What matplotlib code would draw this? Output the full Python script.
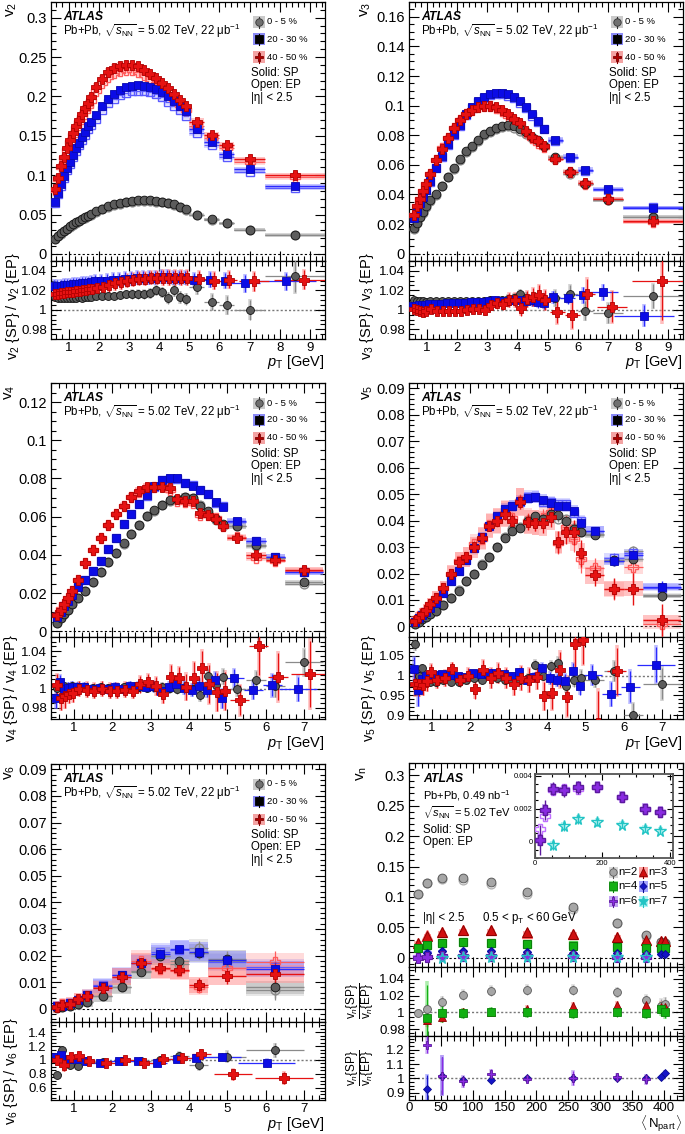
import matplotlib
matplotlib.use("Agg")
import matplotlib.pyplot as plt
import numpy as np
from matplotlib.lines import Line2D
from matplotlib.patches import Rectangle
from matplotlib.ticker import FuncFormatter, MultipleLocator

plt.rcParams["font.family"] = ["Liberation Sans", "DejaVu Sans"]
plt.rcParams["mathtext.fontset"] = "custom"
plt.rcParams["mathtext.rm"] = "Liberation Sans"
plt.rcParams["mathtext.it"] = "Liberation Sans:italic"
plt.rcParams["mathtext.bf"] = "Liberation Sans:bold"
plt.rcParams["axes.linewidth"] = 0.9

# ---------------------------------------------------------------- data
# pT bin edges (GeV)
pt_edges_v2 = [0.5, 0.6, 0.7, 0.8, 0.9, 1.0, 1.1, 1.2, 1.3, 1.4, 1.5, 1.6, 1.7, 1.8,
               2.0, 2.2, 2.4, 2.6, 2.8, 3.0, 3.2, 3.4, 3.6, 3.8, 4.0, 4.2, 4.4, 4.6, 4.8, 5.0,
               5.5, 6.0, 6.5, 7.5, 9.5]
pt_edges_v3 = [0.5, 0.6, 0.7, 0.8, 0.9, 1.0, 1.2, 1.4, 1.6, 1.8,
               2.0, 2.2, 2.4, 2.6, 2.8, 3.0, 3.2, 3.4, 3.6, 3.8, 4.0, 4.2, 4.4, 4.6, 4.8, 5.0,
               5.5, 6.0, 6.5, 7.5, 9.5]
pt_edges_v45 = [0.5, 0.6, 0.7, 0.8, 0.9, 1.0, 1.2, 1.4, 1.6, 1.8,
                2.0, 2.2, 2.4, 2.6, 2.8, 3.0, 3.2, 3.4, 3.6, 3.8, 4.0, 4.2, 4.4, 4.6, 4.8, 5.0,
                5.5, 6.0, 6.5, 7.5]
pt_edges_v6 = [0.5, 0.6, 0.8, 1.0, 1.2, 1.5, 2.0, 2.5, 3.0, 3.5, 4.0, 4.5, 5.5, 7.0]

# v2{SP}
v2_c0 = [0.019, 0.0225, 0.026, 0.029, 0.032, 0.035, 0.0375, 0.040, 0.042, 0.0445, 0.0465, 0.0485, 0.0505,
         0.054, 0.0575, 0.0605, 0.063, 0.065, 0.0665, 0.0675, 0.068, 0.068, 0.068, 0.0675, 0.0665, 0.065,
         0.063, 0.060, 0.0565,
         0.050, 0.044, 0.039, 0.031, 0.0245]
v2_c20 = [0.0662, 0.0776, 0.0883, 0.0989, 0.1087, 0.1173, 0.1257, 0.1342, 0.1414, 0.1482, 0.1554, 0.1627, 0.168,
          0.1767, 0.1882, 0.1971, 0.2035, 0.2086, 0.2116, 0.2137, 0.2141, 0.2137, 0.212, 0.2094, 0.2056, 0.2001,
          0.1946, 0.1882, 0.181,
          0.1584, 0.1427, 0.1265, 0.1074, 0.0861]
v2_c40 = [0.0819, 0.0968, 0.1117, 0.1236, 0.1342, 0.1448, 0.1542, 0.1627, 0.1703, 0.178, 0.1852, 0.1916, 0.1988,
          0.212, 0.2222, 0.2307, 0.2362, 0.2383, 0.24, 0.2405, 0.2383, 0.2341, 0.229, 0.223, 0.2171, 0.2103,
          0.2031, 0.1958, 0.1882,
          0.1682, 0.1512, 0.1384, 0.1202, 0.1002]
# v2{SP}/v2{EP}
r2_c0 = [1.013, 1.012, 1.012, 1.012, 1.012, 1.012, 1.012, 1.012, 1.013, 1.012, 1.013, 1.013, 1.013,
         1.014, 1.014, 1.014, 1.014, 1.015, 1.016, 1.016, 1.016, 1.016, 1.017, 1.020, 1.018, 1.012, 1.020,
         1.013, 1.011,
         1.023, 1.008, 1.005, 1.000, 1.035]
r2_c20 = [1.024, 1.024, 1.024, 1.025, 1.025, 1.025, 1.026, 1.026, 1.026, 1.027, 1.027, 1.027, 1.028,
          1.029, 1.029, 1.030, 1.031, 1.031, 1.032, 1.032, 1.033, 1.033, 1.033, 1.033, 1.034, 1.034, 1.033,
          1.033, 1.033,
          1.031, 1.031, 1.030, 1.027, 1.029]
r2_c40 = [1.016, 1.016, 1.017, 1.017, 1.018, 1.018, 1.018, 1.019, 1.019, 1.020, 1.020, 1.021, 1.021,
          1.022, 1.023, 1.025, 1.027, 1.028, 1.030, 1.031, 1.032, 1.032, 1.033, 1.033, 1.033, 1.033, 1.033,
          1.033, 1.033,
          1.032, 1.030, 1.031, 1.029, 1.031]
r2e_c0 = [0.0035, 0.0035, 0.0035, 0.0035, 0.0035, 0.0035, 0.0035, 0.0035, 0.0035, 0.0035, 0.0035, 0.0035, 0.0035,
          0.004, 0.004, 0.004, 0.004, 0.004, 0.004, 0.0045, 0.0045, 0.0045, 0.005, 0.005, 0.005, 0.006, 0.006,
          0.006, 0.006,
          0.007, 0.008, 0.009, 0.010, 0.017]
r2e_c20 = [0.007, 0.007, 0.007, 0.007, 0.007, 0.007, 0.007, 0.007, 0.007, 0.007, 0.007, 0.007, 0.007,
           0.007, 0.007, 0.007, 0.007, 0.007, 0.007, 0.007, 0.007, 0.007, 0.007, 0.007, 0.007, 0.007, 0.007,
           0.007, 0.007,
           0.007, 0.008, 0.008, 0.009, 0.009]
r2e_c40 = [0.007, 0.007, 0.007, 0.007, 0.007, 0.007, 0.007, 0.007, 0.007, 0.007, 0.007, 0.007, 0.007,
           0.007, 0.007, 0.007, 0.007, 0.007, 0.007, 0.007, 0.007, 0.007, 0.007, 0.007, 0.008, 0.008, 0.008,
           0.008, 0.008,
           0.008, 0.009, 0.009, 0.010, 0.010]

# v3{SP}
v3_c0 = [0.017, 0.021, 0.025, 0.028, 0.032, 0.036, 0.040, 0.046, 0.052, 0.058,
         0.064, 0.069, 0.073, 0.077, 0.081, 0.083, 0.085, 0.0863, 0.087, 0.086, 0.084, 0.082, 0.079, 0.077, 0.073,
         0.065, 0.055, 0.047, 0.036, 0.025]
v3_c20 = [0.024, 0.0285, 0.034, 0.038, 0.043, 0.049, 0.058, 0.066, 0.074, 0.081,
          0.087, 0.094, 0.099, 0.103, 0.106, 0.1078, 0.1088, 0.1088, 0.1076, 0.106, 0.103, 0.099, 0.094, 0.0895,
          0.0845,
          0.077, 0.0656, 0.0566, 0.0436, 0.031]
v3_c40 = [0.026, 0.032, 0.037, 0.042, 0.047, 0.054, 0.063, 0.071, 0.078, 0.085,
          0.090, 0.094, 0.097, 0.099, 0.100, 0.100, 0.099, 0.097, 0.094, 0.091, 0.088, 0.083, 0.079, 0.076, 0.073,
          0.064, 0.055, 0.048, 0.037, 0.022]
r3_c0 = [1.010, 1.009, 1.009, 1.009, 1.008, 1.009, 1.009, 1.009, 1.009, 1.009,
         1.009, 1.009, 1.009, 1.009, 1.009, 1.010, 1.009, 1.010, 1.011, 1.012, 1.016, 1.012, 1.010, 1.011, 1.008,
         1.012, 1.0165, 0.999, 0.9965, 1.014]
r3_c20 = [1.004, 1.004, 1.005, 1.005, 1.005, 1.006, 1.006, 1.006, 1.007, 1.007,
          1.007, 1.007, 1.008, 1.008, 1.008, 1.009, 1.010, 1.009, 1.009, 1.010, 1.010, 1.009, 1.010, 1.008, 1.007,
          1.013, 1.012, 1.015, 1.018, 0.994]
r3_c40 = [1.001, 1.000, 0.999, 0.998, 0.999, 1.001, 0.999, 0.999, 0.999, 0.999,
          0.999, 1.000, 1.001, 1.001, 1.000, 1.005, 1.007, 1.006, 1.010, 1.010, 1.002, 1.011, 1.013, 1.015, 1.010,
          0.998, 0.995, 1.016, 1.003, 1.029]
r3e_c0 = [0.003, 0.003, 0.003, 0.003, 0.003, 0.003, 0.003, 0.003, 0.003, 0.003,
          0.003, 0.003, 0.003, 0.003, 0.004, 0.004, 0.004, 0.004, 0.005, 0.005, 0.005, 0.006, 0.006, 0.007, 0.007,
          0.008, 0.009, 0.010, 0.010, 0.012]
r3e_c20 = [0.003, 0.003, 0.003, 0.003, 0.003, 0.003, 0.003, 0.003, 0.003, 0.003,
           0.003, 0.003, 0.003, 0.003, 0.003, 0.004, 0.004, 0.004, 0.004, 0.005, 0.005, 0.005, 0.006, 0.006, 0.006,
           0.006, 0.006, 0.008, 0.008, 0.011]
r3e_c40 = [0.004, 0.004, 0.004, 0.004, 0.004, 0.004, 0.004, 0.004, 0.004, 0.004,
           0.004, 0.004, 0.004, 0.004, 0.005, 0.005, 0.006, 0.006, 0.007, 0.007, 0.008, 0.008, 0.009, 0.010, 0.010,
           0.012, 0.014, 0.016, 0.016, 0.040]

# v4{SP}
v4_c0 = [0.0045, 0.0068, 0.009, 0.0113, 0.0143, 0.0172, 0.0212, 0.026, 0.031, 0.0363,
         0.0412, 0.046, 0.051, 0.0555, 0.0603, 0.0633, 0.066, 0.0685, 0.0694, 0.0703, 0.0699, 0.0656, 0.063,
         0.0586, 0.056,
         0.0551, 0.045, 0.0383, 0.0256]
v4_c20 = [0.0073, 0.0103, 0.013, 0.016, 0.019, 0.023, 0.027, 0.0313, 0.0369, 0.043,
          0.049, 0.056, 0.0616, 0.0668, 0.0711, 0.076, 0.079, 0.080, 0.080, 0.0777, 0.0763, 0.0742, 0.072,
          0.0677, 0.065,
          0.0577, 0.0473, 0.039, 0.0308]
v4_c40 = [0.0085, 0.0113, 0.0143, 0.0175, 0.021, 0.027, 0.0355, 0.0424, 0.049, 0.0555,
          0.0612, 0.0655, 0.0703, 0.0734, 0.0755, 0.0757, 0.0757, 0.0748, 0.069, 0.068, 0.068, 0.062, 0.061,
          0.059, 0.055,
          0.049, 0.040, 0.0375, 0.0322]
r4_c0 = [1.001, 1.002, 1.003, 1.001, 1.003, 1.002, 1.002, 1.001, 1.002, 1.001,
         1.001, 1.002, 1.001, 1.002, 1.001, 1.002, 1.002, 1.001, 1.000, 1.002, 1.000, 0.993, 1.014, 1.004, 1.013,
         1.000, 1.009, 1.003, 1.028]
r4_c20 = [0.990, 1.007, 1.000, 1.001, 1.002, 1.002, 1.002, 1.000, 1.001, 1.000,
          1.002, 1.000, 1.003, 1.003, 1.002, 1.003, 0.998, 1.002, 1.005, 1.001, 0.999, 1.003, 0.999, 1.009, 0.990,
          1.011, 0.999, 1.004, 1.000]
r4_c40 = [1.004, 0.990, 0.992, 0.995, 0.996, 1.000, 0.999, 0.998, 1.000, 0.998,
          0.998, 0.999, 0.998, 1.005, 1.007, 1.003, 0.995, 1.013, 1.011, 1.002, 1.012, 1.022, 1.005, 0.997, 0.998,
          0.988, 1.045, 1.013, 1.016]
r4e_c0 = [0.004, 0.004, 0.004, 0.004, 0.004, 0.004, 0.004, 0.004, 0.004, 0.004,
          0.004, 0.004, 0.004, 0.004, 0.004, 0.005, 0.005, 0.005, 0.005, 0.006, 0.006, 0.006, 0.007, 0.007, 0.008,
          0.008, 0.010, 0.012, 0.014]
r4e_c20 = [0.010, 0.008, 0.006, 0.006, 0.006, 0.005, 0.005, 0.005, 0.005, 0.005,
           0.005, 0.005, 0.005, 0.005, 0.005, 0.006, 0.006, 0.006, 0.006, 0.007, 0.007, 0.008, 0.008, 0.009, 0.010,
           0.010, 0.010, 0.012, 0.013]
r4e_c40 = [0.012, 0.012, 0.012, 0.010, 0.010, 0.008, 0.008, 0.008, 0.008, 0.008,
           0.008, 0.008, 0.008, 0.009, 0.009, 0.010, 0.010, 0.012, 0.012, 0.014, 0.016, 0.018, 0.020, 0.020, 0.020,
           0.016, 0.030, 0.025, 0.035]

# v5{SP}
v5_c0 = [0.001, 0.0018, 0.0028, 0.0037, 0.0047, 0.0058, 0.008, 0.0107, 0.0135, 0.017,
         0.0198, 0.0232, 0.0262, 0.030, 0.0336, 0.0362, 0.0372, 0.040, 0.0417, 0.0405, 0.0424, 0.042, 0.0397,
         0.037, 0.0355,
         0.0345, 0.025, 0.0255, 0.0115]
v5_c20 = [0.0018, 0.003, 0.0042, 0.0055, 0.0068, 0.0088, 0.0125, 0.0172, 0.021, 0.025,
          0.0298, 0.0338, 0.038, 0.0416, 0.0445, 0.0455, 0.0475, 0.0485, 0.0489, 0.0478, 0.0467, 0.0457, 0.0455,
          0.0436, 0.0389,
          0.0361, 0.0248, 0.027, 0.015]
v5_c40 = [0.0020, 0.0035, 0.0048, 0.0063, 0.0085, 0.0107, 0.0144, 0.020, 0.0244, 0.0263,
          0.030, 0.0335, 0.038, 0.040, 0.0426, 0.040, 0.047, 0.0395, 0.0392, 0.0389, 0.0414, 0.032, 0.0357,
          0.0355, 0.0276,
          0.0194, 0.0142, 0.0142, 0.0025]
v5s_c0 = [0.0003, 0.0003, 0.0003, 0.0003, 0.0003, 0.0004, 0.0004, 0.0004, 0.0005, 0.0005,
          0.0005, 0.0006, 0.0006, 0.0007, 0.0007, 0.0008, 0.0008, 0.0009, 0.0010, 0.0010, 0.0011, 0.0012, 0.0013,
          0.0014, 0.0015,
          0.0015, 0.0018, 0.0020, 0.0020]
v5s_c20 = [0.0003, 0.0003, 0.0003, 0.0003, 0.0003, 0.0004, 0.0004, 0.0004, 0.0005, 0.0005,
           0.0005, 0.0005, 0.0006, 0.0006, 0.0007, 0.0007, 0.0008, 0.0008, 0.0009, 0.0010, 0.0010, 0.0011, 0.0012,
           0.0013, 0.0014,
           0.0015, 0.0018, 0.0020, 0.0020]
v5s_c40 = [0.0005, 0.0005, 0.0006, 0.0006, 0.0007, 0.0008, 0.0009, 0.0010, 0.0012, 0.0013,
           0.0015, 0.0017, 0.0019, 0.0020, 0.0022, 0.0025, 0.0028, 0.0030, 0.0032, 0.0035, 0.0040, 0.0042, 0.0045,
           0.0048, 0.0050,
           0.0040, 0.0040, 0.0060, 0.0060]
r5_c0 = [1.079, 1.000, 1.019, 0.990, 0.985, 0.985, 0.990, 0.985, 0.985, 0.990,
         0.995, 0.990, 1.000, 0.995, 0.990, 0.987, 0.990, 0.995, 1.028, 1.000, 1.024, 1.033, 0.974, 0.990, 0.995,
         0.990, 1.011, 0.900, 0.980]
r5_c20 = [1.017, 0.964, 0.991, 0.998, 1.000, 1.002, 1.003, 1.002, 0.998, 0.997,
          1.006, 1.003, 1.006, 1.006, 1.003, 0.998, 1.009, 0.989, 0.997, 1.019, 0.994, 0.989, 0.987, 1.013, 0.974,
          1.002, 0.954, 0.972, 1.028]
r5_c40 = [0.980, 0.978, 0.977, 0.987, 1.009, 0.989, 0.994, 1.016, 0.990, 1.000,
          0.967, 1.015, 0.994, 1.006, 0.994, 0.978, 0.994, 0.989, 0.997, 0.948, 0.955, 1.015, 0.947, 1.079, 1.090,
          0.880, 1.011, 0.630, 3.000]
r5e_c0 = [0.015, 0.012, 0.010, 0.010, 0.010, 0.008, 0.008, 0.008, 0.008, 0.008,
          0.008, 0.008, 0.008, 0.008, 0.008, 0.010, 0.010, 0.010, 0.012, 0.012, 0.014, 0.015, 0.016, 0.018, 0.020,
          0.020, 0.025, 0.030, 0.040]
r5e_c20 = [0.030, 0.040, 0.025, 0.015, 0.012, 0.010, 0.008, 0.008, 0.008, 0.008,
           0.008, 0.008, 0.008, 0.008, 0.008, 0.010, 0.010, 0.012, 0.012, 0.014, 0.015, 0.016, 0.018, 0.020, 0.022,
           0.025, 0.030, 0.040, 0.045]
r5e_c40 = [0.030, 0.030, 0.025, 0.025, 0.020, 0.020, 0.020, 0.018, 0.018, 0.020,
           0.025, 0.025, 0.025, 0.025, 0.025, 0.028, 0.030, 0.030, 0.030, 0.035, 0.040, 0.045, 0.050, 0.060, 0.060,
           0.080, 0.060, 0.100, 0.100]

# v6{SP}
v6_c0 = [0.0004, 0.0006, 0.0009, 0.0016, 0.0025, 0.0047, 0.0081, 0.0139, 0.0198, 0.018, 0.021, 0.0187, 0.0081]
v6_c20 = [0.001, 0.0012, 0.0022, 0.0031, 0.005, 0.0085, 0.0125, 0.017, 0.0205, 0.0224, 0.0215, 0.0183, 0.015]
v6_c40 = [0.0005, 0.0015, 0.0019, 0.0035, 0.0046, 0.0077, 0.0121, 0.0172, 0.0152, 0.0147, 0.009, 0.0122, 0.0131]
v6s_c0 = [0.0003, 0.0003, 0.0004, 0.0005, 0.0006, 0.0006, 0.0008, 0.001, 0.0012, 0.0015, 0.0025, 0.003, 0.004]
v6s_c20 = [0.0003, 0.0003, 0.0004, 0.0004, 0.0005, 0.0006, 0.0007, 0.0008, 0.001, 0.0012, 0.0015, 0.002, 0.0025]
v6s_c40 = [0.0004, 0.0005, 0.0006, 0.0006, 0.0007, 0.0008, 0.001, 0.0015, 0.0015, 0.002, 0.0025, 0.003, 0.004]
r6_c0 = [0.78, 1.14, 0.92, 0.91, 0.99, 0.97, 0.98, 0.99, 1.00, 1.06, 0.92, 1.05, 1.14]
r6_c20 = [1.04, 1.07, 1.01, 1.02, 0.99, 0.95, 0.98, 0.98, 0.96, 1.02, 1.03, 1.05, 0.96]
r6_c40 = [1.00, 0.92, 1.04, 1.06, 0.99, 0.96, 1.00, 0.95, 1.02, 1.03, 1.09, 0.79, 0.74]
r6e_c0 = [0.05, 0.06, 0.05, 0.05, 0.03, 0.03, 0.03, 0.04, 0.05, 0.06, 0.07, 0.08, 0.10]
r6e_c20 = [0.05, 0.05, 0.04, 0.04, 0.03, 0.02, 0.02, 0.02, 0.02, 0.03, 0.04, 0.05, 0.06]
r6e_c40 = [0.08, 0.08, 0.06, 0.05, 0.04, 0.03, 0.03, 0.04, 0.05, 0.05, 0.06, 0.08, 0.09]

# vn vs <Npart>, 0.5 < pT < 60 GeV
npart = [14, 29, 52, 85, 129, 185, 258, 327, 372, 395, 401]
vn_n2 = [0.105, 0.123, 0.131, 0.131, 0.124, 0.108, 0.083, 0.058, 0.037, 0.026, 0.024]
vn_n3 = [0.025, 0.0365, 0.0417, 0.045, 0.045, 0.0417, 0.0395, 0.0346, 0.030, 0.0285, 0.0285]
vn_n4 = [0.016, 0.0214, 0.0252, 0.0268, 0.0252, 0.023, 0.0203, 0.0186, 0.017, 0.016, 0.016]
vn_n5 = [0.002, 0.0087, 0.0115, 0.0115, 0.0115, 0.0104, 0.0087, 0.0076, 0.0065, 0.0065, 0.0062]
vn_n6 = [0.0001, 0.0019, 0.0032, 0.0031, 0.0033, 0.0033, 0.0027, 0.0020, 0.0018]
vn_n7 = [-0.0002, 0.00095, 0.00136, 0.00116, 0.0010, 0.00075, 0.00065]
vn_n6_err = [0.0009, 0.0006, 0.0004, 0.0004, 0.0004, 0.0003, 0.0003, 0.0003, 0.0002]
vn_n7_err = [0.0003, 0.0003, 0.0003, 0.0002, 0.0002, 0.0002, 0.0002]
rn_n2 = [0.999, 1.004, 1.013, 1.021, 1.0256, 1.027, 1.027, 1.024, 1.015, 1.008, 1.010]
rn_n3 = [1.000, 0.991, 0.995, 1.000, 1.001, 1.004, 1.008, 1.009, 1.009, 1.007, 1.006]
rn_n4 = [1.000, 0.993, 0.999, 0.999, 1.001, 1.000, 0.999, 1.001, 0.999, 1.004, 1.001]
rn_n5 = [1.000, 0.924, 1.020, 0.990, 0.990, 1.000, 1.000, 1.000, 1.000, 1.010, 1.040]
rn_n6 = [0.13, 1.234, 1.020, 0.980, 1.034, 0.993, 1.005, 1.012, 0.993]
rn_n2_err = [0.005, 0.005, 0.006, 0.006, 0.006, 0.006, 0.006, 0.006, 0.006, 0.008, 0.008]
rn_n3_err = [0.010, 0.008, 0.006, 0.005, 0.004, 0.004, 0.004, 0.004, 0.005, 0.006, 0.006]
rn_n4_err = [0.040, 0.040, 0.010, 0.006, 0.005, 0.006, 0.006, 0.006, 0.006, 0.008, 0.008]
rn_n5_err = [0.10, 0.10, 0.13, 0.02, 0.015, 0.01, 0.01, 0.01, 0.01, 0.015, 0.015]
rn_n6_err = [0.20, 0.06, 0.13, 0.04, 0.03, 0.015, 0.05, 0.025, 0.035]

# ---------------------------------------------------------------- styles
W, H = 685, 1134

CENT = {
    "c0": dict(m="o", ms=6.3, fc="#5c5c5c", ec="#111111", line="#8a8a8a", box="#b0b0b0", open="#8a8a8a",
               lfc="#707070", lec="#333333", lbox="#bdbdbd", label="0 - 5 %"),
    "c20": dict(m="s", ms=6.0, fc="#0b0be6", ec="#0808b0", line="#2a2aff", box="#8a8aff", open="#5a5aff",
                lfc="#000000", lec="#000000", lbox="#6e6ef5", label="20 - 30 %"),
    "c40": dict(m="P", ms=7.5, fc="#e61212", ec="#b00000", line="#e61212", box="#ff8a8a", open="#ff5c5c",
                lfc="#b00000", lec="#800000", lbox="#f08c8c", label="40 - 50 %"),
}
KEYS = ["c0", "c20", "c40"]
SHIFTS = [0.0, -0.3, 0.3]

fig = plt.figure(figsize=(W / 100, H / 100), dpi=100)


def rect(x0, y0, x1, y1):
    return [x0 / W, 1 - y1 / H, (x1 - x0) / W, (y1 - y0) / H]


def fx(x):
    return x / W


def fy(y):
    return 1 - y / H


fmt = FuncFormatter(lambda v, p: f"{round(v, 6):g}")


def style_axis(ax, xmaj, xmin, ymaj, ymin, size):
    ax.xaxis.set_major_locator(MultipleLocator(xmaj))
    ax.xaxis.set_minor_locator(MultipleLocator(xmin))
    ax.yaxis.set_major_locator(MultipleLocator(ymaj))
    ax.yaxis.set_minor_locator(MultipleLocator(ymin))
    ax.xaxis.set_major_formatter(fmt)
    ax.yaxis.set_major_formatter(fmt)
    ax.tick_params(which="both", direction="in", top=True, right=True, labelsize=size, width=0.8, pad=3)
    ax.tick_params(which="major", length=7)
    ax.tick_params(which="minor", length=3.5)


def centers(edges):
    e = np.asarray(edges, float)
    return (e[:-1] + e[1:]) / 2, (e[1:] - e[:-1]) / 2


def boxes(ax, x, y, hw, hh, color, alpha, z):
    for xi, yi, wi, hi in zip(x, y, hw, hh):
        ax.add_patch(Rectangle((xi - wi, yi - hi), 2 * wi, 2 * hi, fc=color, ec="none", alpha=alpha, zorder=z))


def draw_pt_series(ax, rax, edges, sp, ratio, rerr, st, sys_frac, sys_abs, stat, shift):
    x, hw = centers(edges)
    sp = np.asarray(sp)
    ratio = np.asarray(ratio)
    ep = sp / ratio
    sys = np.abs(sp) * sys_frac + sys_abs
    bw = np.maximum(hw, 0.09)
    boxes(ax, x, ep, bw, sys, st["box"], 0.3, 1)
    boxes(ax, x, sp, bw, sys, st["box"], 0.5, 2)
    ax.errorbar(x, ep, xerr=hw, yerr=stat, fmt=st["m"], ms=st["ms"], mfc="none", mec=st["open"], mew=1.0,
                ecolor=st["open"], elinewidth=0.9, capsize=0, zorder=3)
    ax.errorbar(x, sp, xerr=hw, yerr=stat, fmt=st["m"], ms=st["ms"], mfc=st["fc"], mec=st["ec"], mew=0.6,
                ecolor=st["line"], elinewidth=1.0, capsize=0, zorder=4)
    xs = x + shift * hw
    rax.errorbar(xs, ratio, yerr=np.asarray(rerr) * 1.1, fmt="none", ecolor=st["box"], elinewidth=2.6,
                 alpha=0.55, zorder=2)
    rax.errorbar(xs, ratio, xerr=hw, yerr=rerr, fmt=st["m"], ms=st["ms"] * 0.9, mfc=st["fc"], mec=st["ec"],
                 mew=0.6, ecolor=st["line"], elinewidth=0.9, capsize=0, zorder=3)


def legend_entry(x, y, fcol, ecol, bcol, marker, ms, label, fs, bw=12, bh=11, gap=2):
    fig.add_artist(Rectangle((fx(x - bw / 2), fy(y + bh / 2)), bw / W, bh / H, transform=fig.transFigure,
                             fc=bcol, ec="none", alpha=0.8))
    fig.add_artist(Line2D([fx(x), fx(x)], [fy(y - bh / 2), fy(y + bh / 2)], transform=fig.transFigure,
                          color=ecol, lw=0.8))
    fig.add_artist(Line2D([fx(x)], [fy(y)], transform=fig.transFigure, marker=marker, ms=ms, mfc=fcol,
                          mec=ecol, mew=0.6, ls="none"))
    fig.text(fx(x + bw / 2 + gap), fy(y), label, fontsize=fs, va="center", ha="left")


def pt_panel(x0, x1, top, mid, bot, edges, series, ratios, rerrs, stats, sys_frac, sys_abs, sys_w,
             ylim, yt, rlim, rt, xlim, name, ylab_x, ylab_y, rlab_y, xlab_y):
    ax = fig.add_axes(rect(x0, top, x1, mid))
    rax = fig.add_axes(rect(x0, mid, x1, bot), sharex=ax)
    for key, sp, r, re, s, w, sh in zip(KEYS, series, ratios, rerrs, stats, sys_w, SHIFTS):
        draw_pt_series(ax, rax, edges, sp, r, re, CENT[key], sys_frac * w, sys_abs * w, s, sh)
    ax.axhline(0, color="black", lw=0.8, ls=(0, (2, 2)), zorder=0)
    rax.axhline(1, color="#777777", lw=1.0, ls=(0, (1.5, 1.5)), zorder=1)
    ax.set_xlim(*xlim)
    ax.set_ylim(*ylim)
    rax.set_ylim(*rlim)
    style_axis(ax, 1, 0.2, yt[0], yt[1], 10.5)
    style_axis(rax, 1, 0.2, rt[0], rt[1], 9.5)
    rax.tick_params(axis="x", pad=2)
    ax.tick_params(labelbottom=False)

    # axis titles
    fig.text(fx(ylab_x), fy(ylab_y), rf"v$_{{{name}}}$", rotation=90, ha="center", va="top", fontsize=11)
    fig.text(fx(ylab_x + 1), fy(rlab_y), rf"v$_{{{name}}}$ {{SP}} / v$_{{{name}}}$ {{EP}}", rotation=90,
             ha="center", va="center", fontsize=10.5)
    fig.text(fx(x1), fy(xlab_y), r"$p_{\mathrm{T}}$ [GeV]", ha="right", va="center", fontsize=10.5)

    # labels inside the panel
    fig.text(fx(x0 + 12), fy(top + 15), "ATLAS", fontsize=8.8, fontweight="bold", fontstyle="italic",
             va="center")
    fig.text(fx(x0 + 12), fy(top + 29), r"Pb+Pb, $\sqrt{s_{\mathrm{NN}}}$ = 5.02 TeV, 22 μb$^{-1}$",
             fontsize=8.3, va="center")
    for key, yy in zip(KEYS, [20, 37, 55]):
        st = CENT[key]
        legend_entry(x0 + 208, top + yy, st["lfc"], st["lec"], st["lbox"], st["m"], st["ms"] * 0.85,
                     st["label"], 6.8)
    for txt, yy in zip(["Solid: SP", "Open: EP", "|η| < 2.5"], [71, 83, 96]):
        fig.text(fx(x0 + 200), fy(top + yy), txt, fontsize=8.3, va="center")
    return ax, rax


# ---------------------------------------------------------------- pT panels
pt_panel(51, 325, 2, 261, 339, pt_edges_v2, (v2_c0, v2_c20, v2_c40), (r2_c0, r2_c20, r2_c40),
         (r2e_c0, r2e_c20, r2e_c40), (None, None, None), 0.015, 0.0015, (1, 1, 1),
         (-0.009, 0.32), (0.05, 0.01), (0.97, 1.05), (0.02, 0.005), (0.42, 9.5), "2", 12, 2, 306, 362)
pt_panel(409, 683, 2, 261, 339, pt_edges_v3, (v3_c0, v3_c20, v3_c40), (r3_c0, r3_c20, r3_c40),
         (r3e_c0, r3e_c20, r3e_c40), (None, None, None), 0.015, 0.0008, (1, 1, 1),
         (-0.005, 0.17), (0.02, 0.005), (0.97, 1.05), (0.02, 0.005), (0.4, 9.5), "3", 366, 2, 306, 362)
pt_panel(51, 325, 383, 637, 719, pt_edges_v45, (v4_c0, v4_c20, v4_c40), (r4_c0, r4_c20, r4_c40),
         (r4e_c0, r4e_c20, r4e_c40), (None, None, None), 0.02, 0.0006, (1, 1, 1),
         (-0.003, 0.13), (0.02, 0.005), (0.968, 1.055), (0.02, 0.005), (0.4, 7.55), "4", 10, 385, 688, 743)
pt_panel(409, 683, 383, 637, 719, pt_edges_v45, (v5_c0, v5_c20, v5_c40), (r5_c0, r5_c20, r5_c40),
         (r5e_c0, r5e_c20, r5e_c40), (v5s_c0, v5s_c20, v5s_c40), 0.04, 0.001, (0.5, 0.8, 1.8),
         (-0.004, 0.092), (0.01, 0.002), (0.89, 1.098), (0.05, 0.01), (0.4, 7.55), "5", 368, 385, 688, 743)
pt_panel(51, 325, 764, 1022, 1100, pt_edges_v6, (v6_c0, v6_c20, v6_c40), (r6_c0, r6_c20, r6_c40),
         (r6e_c0, r6e_c20, r6e_c40), (v6s_c0, v6s_c20, v6s_c40), 0.08, 0.0018, (1, 1, 1.2),
         (-0.005, 0.092), (0.01, 0.002), (0.42, 1.55), (0.2, 0.05), (0.4, 7.55), "6", 10, 765, 1071, 1124)

# ---------------------------------------------------------------- vn vs Npart
NSTY = {
    2: dict(m="o", ms=6.3, fc="#a6a6a6", ec="#5a5a5a", box="#cfcfcf", open="#b4b4b4", sys=0.002),
    3: dict(m="^", ms=6.5, fc="#d01010", ec="#8c0000", box="#ff8c8c", open="#ff6060", sys=0.0025),
    4: dict(m="s", ms=6.0, fc="#12b012", ec="#0a800a", box="#7be27b", open="#50d050", sys=0.002),
    5: dict(m="D", ms=4.2, fc="#1414c8", ec="#0a0a90", box="#8c8cff", open="#6060ff", sys=0.0012),
    6: dict(m="P", ms=7.0, fc="#8a2be2", ec="#5c1a9e", box="#b68cf0", open="#c070ff", sys=0.0003),
    7: dict(m="*", ms=8.5, fc="none", ec="#22c4c4", box="#9af0f0", open="#22c4c4", sys=0.0002),
}

axn = fig.add_axes(rect(409, 763, 683, 967))
rn1 = fig.add_axes(rect(409, 967, 683, 1036), sharex=axn)
rn2 = fig.add_axes(rect(409, 1036, 683, 1100), sharex=axn)

npart_arr = np.asarray(npart, float)
n_series = [
    (2, npart_arr, vn_n2, rn_n2),
    (3, npart_arr, vn_n3, rn_n3),
    (4, npart_arr, vn_n4, rn_n4),
    (5, npart_arr, vn_n5, rn_n5),
    (6, npart_arr[:9], vn_n6, rn_n6),
    (7, npart_arr[2:9], vn_n7, None),
]
for n, xx, vv, rr in n_series:
    st = NSTY[n]
    vv = np.asarray(vv)
    hh = np.full(len(xx), st["sys"])
    if rr is not None:
        ep = vv / np.asarray(rr)
        boxes(axn, xx, ep, np.full(len(xx), 6.0), hh, st["box"], 0.3, 1)
        axn.plot(xx, ep, st["m"], ms=st["ms"], mfc="none", mec=st["open"], mew=1.0, zorder=3)
    boxes(axn, xx, vv, np.full(len(xx), 6.0), hh, st["box"], 0.6, 2)
    axn.plot(xx, vv, st["m"], ms=st["ms"], mfc=st["fc"], mec=st["ec"], mew=0.7 if n != 7 else 1.0, zorder=4)

axn.axhline(0, color="black", lw=0.8, ls=(0, (2, 2)), zorder=0)
axn.set_xlim(0, 430)
axn.set_ylim(-0.015, 0.32)
style_axis(axn, 50, 10, 0.05, 0.01, 10.5)
axn.tick_params(labelbottom=False)


def n_ratio(rax, n, xx, rr, ee):
    st = NSTY[n]
    rax.errorbar(xx, rr, yerr=np.asarray(ee) * 1.1, fmt="none", ecolor=st["box"], elinewidth=2.6, alpha=0.6,
                 zorder=2)
    rax.errorbar(xx, rr, yerr=ee, fmt=st["m"], ms=st["ms"] * 0.9, mfc=st["fc"], mec=st["ec"], mew=0.6,
                 ecolor=st["fc"], elinewidth=0.9, capsize=0, zorder=3)


n_ratio(rn1, 2, npart_arr, rn_n2, rn_n2_err)
n_ratio(rn1, 3, npart_arr[1:], rn_n3[1:], rn_n3_err[1:])
n_ratio(rn1, 4, npart_arr[1:], rn_n4[1:], rn_n4_err[1:])
n_ratio(rn2, 5, npart_arr[1:], rn_n5[1:], rn_n5_err[1:])
n_ratio(rn2, 6, npart_arr[1:9], rn_n6[1:], rn_n6_err[1:])
for rax, lim, maj, mnr in [(rn1, (0.972, 1.054), 0.02, 0.005), (rn2, (0.85, 1.295), 0.1, 0.025)]:
    rax.axhline(1, color="#777777", lw=1.0, ls=(0, (1.5, 1.5)), zorder=1)
    rax.set_ylim(*lim)
    style_axis(rax, 50, 10, maj, mnr, 9.5)
rn1.tick_params(labelbottom=False)
rn2.tick_params(axis="x", labelsize=9.5, pad=1.5)

# inset: n = 6, 7
ins = fig.add_axes(rect(535, 774, 673, 858))
for n, xx, vv, ee, rr in [(6, npart_arr[:9], vn_n6, vn_n6_err, rn_n6), (7, npart_arr[2:9], vn_n7, vn_n7_err, None)]:
    st = NSTY[n]
    vv = np.asarray(vv)
    hh = np.full(len(xx), 0.00035 if n == 6 else 0.00025)
    if rr is not None:
        ep = vv / np.asarray(rr)
        ins.plot(xx, ep, st["m"], ms=st["ms"], mfc="none", mec=st["open"], mew=1.0, zorder=3)
    boxes(ins, xx, vv, np.full(len(xx), 8.0), hh, st["box"], 0.7, 2)
    ins.errorbar(xx, vv, yerr=ee, fmt=st["m"], ms=st["ms"], mfc=st["fc"], mec=st["ec"], mew=1.0,
                 ecolor=st["ec"], elinewidth=1.0, capsize=0, zorder=4)
ins.set_xlim(0, 410)
ins.set_ylim(-0.001, 0.0041)
style_axis(ins, 200, 50, 0.002, 0.0005, 5.5)
ins.tick_params(which="major", length=4, pad=1.5)
ins.tick_params(which="minor", length=2)
for s in ins.spines.values():
    s.set_linewidth(1.3)
    s.set_color("#555555")

# texts for the vn panel
fig.text(fx(423), fy(779), "ATLAS", fontsize=8.8, fontweight="bold", fontstyle="italic", va="center")
fig.text(fx(423), fy(796), "Pb+Pb, 0.49 nb$^{-1}$", fontsize=8.0, va="center")
fig.text(fx(423), fy(813), r"$\sqrt{s_{\mathrm{NN}}}$ = 5.02 TeV", fontsize=8.0, va="center")
fig.text(fx(423), fy(830), "Solid: SP", fontsize=8.3, va="center")
fig.text(fx(423), fy(842), "Open: EP", fontsize=8.3, va="center")
fig.text(fx(423), fy(918), "|η| < 2.5", fontsize=8.3, va="center")
fig.text(fx(482), fy(918), r"0.5 < p$_{\mathrm{T}}$ < 60 GeV", fontsize=8.3, va="center")
for n, xx, yy in [(2, 613, 872), (3, 643, 872), (4, 613, 886), (5, 643, 886), (6, 613, 901), (7, 643, 901)]:
    st = NSTY[n]
    legend_entry(xx, yy, st["fc"] if n != 7 else "#22c4c4", st["ec"], st["box"], st["m"], st["ms"] * 0.85,
                 f"n={n}", 8.2, bw=9, bh=11, gap=0.5)

fig.text(fx(362), fy(766), r"v$_{\mathrm{n}}$", rotation=90, ha="center", va="top", fontsize=11)
fig.text(fx(360), fy(1001), r"$\dfrac{\mathrm{v}_{n}\{\mathrm{SP}\}}{\mathrm{v}_{n}\{\mathrm{EP}\}}$", rotation=90,
         ha="center", va="center", fontsize=8.5)
fig.text(fx(360), fy(1068), r"$\dfrac{\mathrm{v}_{n}\{\mathrm{SP}\}}{\mathrm{v}_{n}\{\mathrm{EP}\}}$", rotation=90,
         ha="center", va="center", fontsize=8.5)
fig.text(fx(683), fy(1133.5), r"$\langle\,\mathrm{N}_{\mathrm{part}}\,\rangle$", ha="right", va="bottom",
         fontsize=9.5)

plt.savefig("out.png", dpi=100)
plt.close()
